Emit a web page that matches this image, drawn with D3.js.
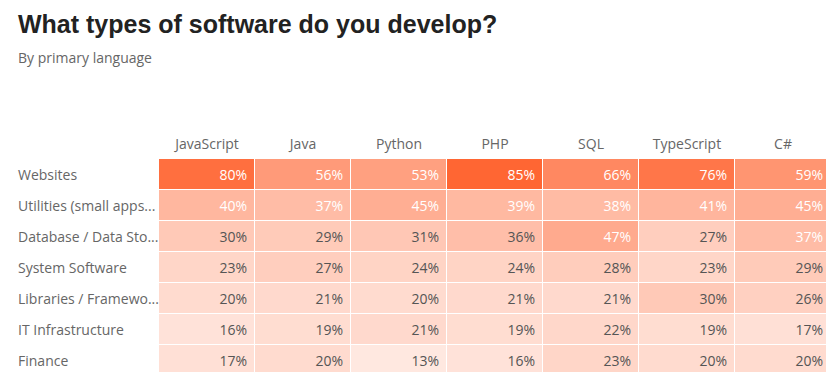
<!DOCTYPE html>
<html><head><meta charset="utf-8">
<script src="https://cdn.jsdelivr.net/npm/d3@7"></script>
<style>
body{margin:0;background:#fff;overflow:hidden}
</style></head>
<body><svg id="c" width="826" height="372"></svg>
<script>
const languages = ["JavaScript","Java","Python","PHP","SQL","TypeScript","C#"];
const types = ["Websites","Utilities (small apps for personal use)","Database / Data Storage","System Software","Libraries / Frameworks","IT Infrastructure","Finance"];
const websites   = [80,56,53,85,66,76,59];
const utilities  = [40,37,45,39,38,41,45];
const database   = [30,29,31,36,47,27,37];
const systemSw   = [23,27,24,24,28,23,29];
const libraries  = [20,21,20,21,21,30,26];
const itInfra    = [16,19,21,19,22,19,17];
const finance    = [17,20,13,16,23,20,20];
const rows = [websites,utilities,database,systemSw,libraries,itInfra,finance];

const svg = d3.select("#c");
const font = "'Segoe UI','Open Sans','Noto Sans',sans-serif";

svg.append("text").attr("x",18).attr("y",33)
  .attr("font-family","'Liberation Sans',Arial,sans-serif").attr("font-weight","bold")
  .attr("font-size",25).attr("fill","#222").text("What types of software do you develop?");
svg.append("text").attr("x",18).attr("y",63)
  .attr("font-family",font).attr("font-size",14).attr("fill","#666").text("By primary language");

const x = d3.scaleBand().domain(languages).range([159,831]).paddingInner(0);
const y = d3.scaleBand().domain(types).range([159,376]);
const color = d3.scaleLinear().domain([0,85]).range(["#ffffff","#ff6633"]);

const cells = [];
rows.forEach((r,i)=>r.forEach((v,j)=>cells.push({t:types[i],l:languages[j],v})));

svg.append("g").selectAll("rect").data(cells).join("rect")
  .attr("x",d=>x(d.l)).attr("y",d=>y(d.t))
  .attr("width",x.bandwidth()-1).attr("height",y.bandwidth()-1)
  .attr("fill",d=>color(d.v));

svg.append("g").selectAll("text").data(cells).join("text")
  .attr("x",d=>x(d.l)+x.bandwidth()-8).attr("y",d=>y(d.t)+y.bandwidth()/2)
  .attr("dy","0.4em").attr("text-anchor","end")
  .attr("font-family",font).attr("font-size",14)
  .attr("fill",d=>d.v>=37?"#fff":"#555")
  .text(d=>d.v+"%");

svg.append("g").selectAll("text").data(languages).join("text")
  .attr("x",d=>x(d)+x.bandwidth()/2).attr("y",143)
  .attr("dy","0.4em").attr("text-anchor","middle")
  .attr("font-family",font).attr("font-size",14).attr("fill","#666")
  .text(d=>d);

const labels = svg.append("g").selectAll("text").data(types).join("text")
  .attr("x",18).attr("y",d=>y(d)+y.bandwidth()/2)
  .attr("dy","0.4em")
  .attr("font-family",font).attr("font-size",14).attr("fill","#666")
  .text(d=>d);
const maxW = 142;
labels.each(function(d){
  const el = d3.select(this);
  if (this.getComputedTextLength() <= maxW) return;
  let s = d;
  while (s.length>1){
    s = s.slice(0,-1);
    el.text(s.trimEnd()+"...");
    if (this.getComputedTextLength() <= maxW) break;
  }
});
</script></body></html>
